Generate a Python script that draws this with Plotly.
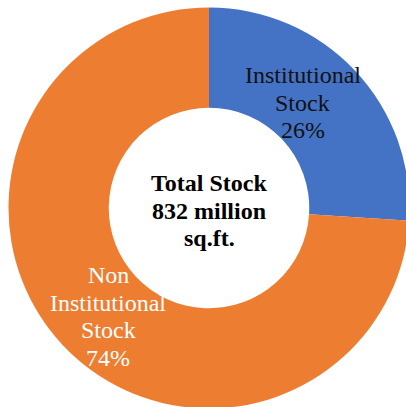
import textwrap
import plotly.graph_objects as go

categories = ["Institutional Stock", "Non Institutional Stock"]
values = [26, 74]
colors = ["#4472C4", "#ED7D31"]
label_colors = ["#111111", "#FFFFFF"]
center_lines = ["Total Stock", "832 million", "sq.ft."]

W, H = 418, 416
OFF = 0  # body margin is removed after plotting

fig = go.Figure(go.Pie(
    labels=categories, values=values, hole=0.5, sort=False,
    direction="clockwise", rotation=0,
    marker=dict(colors=colors, line=dict(width=0)),
    textinfo="none", hoverinfo="label+percent",
    domain=dict(x=[8.5 / W, 409.5 / W], y=[7.5 / H, 408.5 / H]),
))

FONT = "Liberation Serif, Times New Roman, serif"
SIZE = 24
LINE = 27.5

def px_to_paper(X, Y):
    return (X - OFF) / W, 1 - (Y - OFF) / H

annotations = []
# label block anchors: (center x, middle y of first line) in page pixels
anchors = [(302.5, 75), (108, 275)]
total = sum(values)
for cat, val, col, (cx, y0) in zip(categories, values, label_colors, anchors):
    lines = textwrap.wrap(cat, width=13) + [f"{val / total * 100:.0f}%"]
    for i, ln in enumerate(lines):
        px, py = px_to_paper(cx, y0 + i * LINE)
        annotations.append(dict(
            text=ln, x=px, y=py, xref="paper", yref="paper",
            xanchor="center", yanchor="middle", showarrow=False,
            font=dict(family=FONT, size=SIZE, color=col)))

for i, ln in enumerate(center_lines):
    px, py = px_to_paper(209, 183 + i * LINE)
    annotations.append(dict(
        text=f"<b>{ln}</b>", x=px, y=py, xref="paper", yref="paper",
        xanchor="center", yanchor="middle", showarrow=False,
        font=dict(family=FONT, size=SIZE, color="#000000")))

fig.update_layout(
    width=W, height=H, autosize=False,
    margin=dict(l=0, r=0, t=0, b=0),
    paper_bgcolor="white", plot_bgcolor="white",
    showlegend=False, annotations=annotations,
)

fig.write_html(
    "out.html",
    config={"responsive": False, "displayModeBar": False},
    post_script=("document.body.style.margin='0';"
                 "document.documentElement.style.overflow='hidden';"),
)
